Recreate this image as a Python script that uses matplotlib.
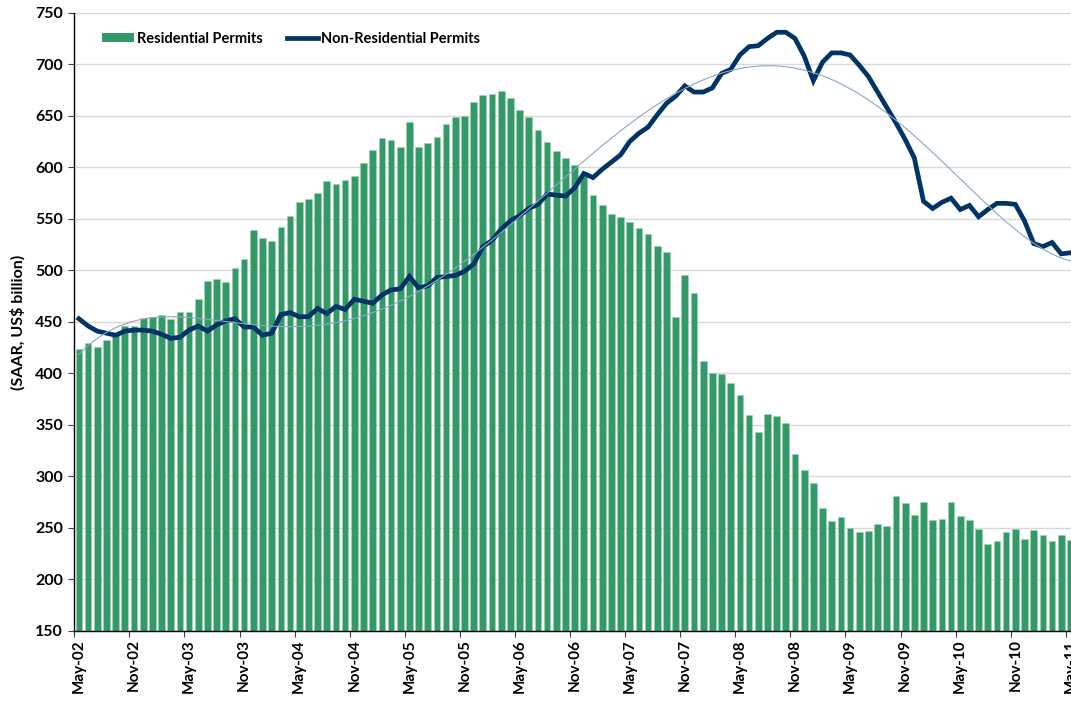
import numpy as np
import matplotlib
matplotlib.use("Agg")
import matplotlib.pyplot as plt
from matplotlib.lines import Line2D
from matplotlib.patches import Patch

# Monthly data, May-02 .. May-11 (109 months)
residential = [
    424, 429, 426, 432, 437, 446, 446, 454, 455, 457,
    453, 460, 460, 472, 490, 492, 489, 502, 511, 539,
    531, 528, 542, 553, 566, 569, 575, 587, 584, 588,
    592, 604, 617, 628, 626, 620, 644, 620, 624, 629,
    642, 649, 650, 663, 670, 671, 674, 667, 656, 649,
    636, 625, 616, 609, 602, 592, 573, 563, 555, 552,
    547, 541, 535, 524, 518, 455, 495, 478, 412, 400,
    399, 391, 379, 360, 343, 361, 359, 352, 322, 306,
    294, 269, 257, 261, 250, 246, 247, 254, 252, 281,
    274, 263, 275, 258, 259, 275, 262, 258, 249, 234,
    237, 246, 249, 239, 248, 243, 237, 243, 238,
]
non_residential = [
    453, 446, 441, 439, 437, 441, 442, 442, 441, 438,
    434, 435, 442, 446, 441, 447, 451, 453, 445, 445,
    437, 439, 457, 459, 455, 455, 463, 458, 465, 462,
    472, 470, 468, 476, 481, 482, 494, 483, 485, 493,
    494, 495, 499, 506, 523, 529, 540, 548, 553, 560,
    564, 574, 573, 572, 580, 594, 590, 598, 605, 612,
    625, 633, 639, 651, 662, 669, 679, 673, 673, 677,
    691, 695, 709, 717, 718, 725, 731, 731, 725, 708,
    684, 702, 711, 711, 709, 699, 688, 673, 658, 643,
    627, 609, 567, 560, 566, 570, 559, 563, 552, 559,
    565, 565, 564, 548, 526, 523, 527, 516, 517,
]
tick_labels = ["May-02", "Nov-02", "May-03", "Nov-03", "May-04", "Nov-04",
               "May-05", "Nov-05", "May-06", "Nov-06", "May-07", "Nov-07",
               "May-08", "Nov-08", "May-09", "Nov-09", "May-10", "Nov-10",
               "May-11"]

plt.rcParams['font.family'] = ['Lato', 'DejaVu Sans']

fig = plt.figure(figsize=(10.71, 7.13), dpi=100)
ax = fig.add_axes([74.3 / 1071, (713 - 631) / 713, (1075 - 74.3) / 1071, (631 - 12.7) / 713])

n = len(residential)
x = np.arange(n)

ax.bar(x, residential, width=0.73, color='#339966', edgecolor='#9fd4b4',
       linewidth=0.4, zorder=2)
ax.plot(x, non_residential, color='#003366', linewidth=3.4, zorder=3,
        solid_joinstyle='miter')

# polynomial (5th order) trendline of the non-residential series
poly = np.polynomial.Polynomial.fit(x, non_residential, 5)
xs = np.linspace(0, n - 1, 400)
ax.plot(xs, poly(xs), color='#8ea6c4', linewidth=0.8, zorder=4)

ax.set_ylim(150, 750)
ax.set_xlim(-0.5, n - 0.5)
ax.set_yticks(np.arange(150, 751, 50))
ax.yaxis.grid(True, color='#d9d9d9', linewidth=1.0, zorder=0)
ax.set_axisbelow(True)

major = np.arange(0, n, 6)
ax.set_xticks(major)
ax.set_xticklabels(tick_labels, rotation=90, fontsize=11, fontweight='bold',
                   va='top')
ax.set_xticks(major - 0.5, minor=True)
ax.tick_params(axis='x', which='major', length=0, pad=6)
ax.tick_params(axis='x', which='minor', length=4, width=0.8, color='#404040')
ax.tick_params(axis='y', length=4, width=0.8, color='#404040', labelsize=11.5,
               pad=4)
for lab in ax.get_yticklabels():
    lab.set_fontweight('bold')

for s in ['top', 'right']:
    ax.spines[s].set_visible(False)
ax.spines['left'].set_color('black')
ax.spines['bottom'].set_color('black')
ax.spines['left'].set_linewidth(1.0)
ax.spines['bottom'].set_linewidth(1.0)

fig.text(18 / 1071, 1 - 322 / 713, "(SAAR, US$ billion)", rotation=90,
         ha='center', va='center', fontsize=11.5, fontweight='bold')

handles = [Patch(facecolor='#339966', edgecolor='none'),
           Line2D([0], [0], color='#003366', linewidth=3.4)]
leg = ax.legend(handles, ["Residential Permits", "Non-Residential Permits"],
                ncol=2, frameon=False, loc='upper left',
                bbox_to_anchor=(15 / 1001, 0.99), handlelength=2.15,
                handleheight=0.6, handletextpad=0.2, columnspacing=1.65,
                prop={'weight': 'bold', 'size': 10.5})

fig.savefig("out.png", dpi=100)
